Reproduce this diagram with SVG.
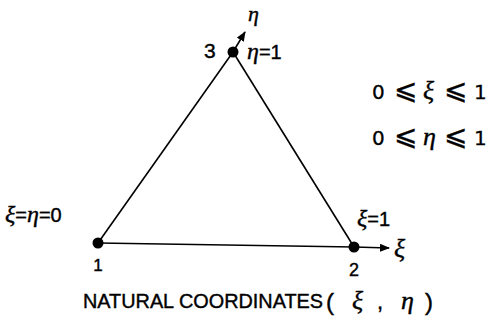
<svg xmlns="http://www.w3.org/2000/svg" width="486" height="331" viewBox="0 0 486 331">
<style>
.t{font-family:"Liberation Sans",Arial,sans-serif;fill:#000;stroke:#000;stroke-width:0.4}
.g{font-family:"Liberation Serif","DejaVu Serif",serif;font-style:italic;fill:#000;stroke:#000;stroke-width:0.4}
.s{font-family:"DejaVu Sans",sans-serif;fill:#000;stroke:#000;stroke-width:0.3}
.e{stroke:#000;stroke-width:1.6;fill:none}
.d{fill:#000}
</style>
<defs>
<marker id="ah" markerWidth="10" markerHeight="8" refX="9" refY="4" orient="auto" markerUnits="userSpaceOnUse">
<path d="M0,0 L10,4 L0,8 Z" fill="#000"/>
</marker>
</defs>
<rect width="486" height="331" fill="#fff"/>
<g id="connectors">
<line class="e" x1="98" y1="243" x2="354" y2="247"/>
<line class="e" x1="98" y1="243" x2="233" y2="52"/>
<line class="e" x1="233" y1="52" x2="354" y2="247"/>
<line class="e" x1="233" y1="52" x2="245" y2="32" marker-end="url(#ah)"/>
<line class="e" x1="354" y1="247" x2="389" y2="248" marker-end="url(#ah)"/>
</g>
<g id="node1">
<circle class="d" cx="98" cy="243" r="5.5"/>
<text class="t" x="98" y="271" font-size="17" text-anchor="middle">1</text>
<text class="g" x="5" y="222" font-size="24">ξ<tspan class="t" font-style="normal" font-size="20">=</tspan>η<tspan class="t" font-style="normal" font-size="20">=0</tspan></text>
</g>
<g id="node2">
<circle class="d" cx="354" cy="247" r="5.5"/>
<text class="t" x="354" y="276" font-size="18" text-anchor="middle">2</text>
<text class="g" x="357" y="226" font-size="24">ξ<tspan class="t" font-style="normal" font-size="20">=1</tspan></text>
<text class="g" x="394" y="257" font-size="26">ξ</text>
</g>
<g id="node3">
<circle class="d" cx="233" cy="52" r="5.5"/>
<text class="t" x="204" y="58" font-size="21">3</text>
<text class="g" x="247" y="59" font-size="24">η<tspan class="t" font-style="normal" font-size="20">=1</tspan></text>
<text class="g" x="248" y="21" font-size="22">η</text>
</g>
<g id="ranges">
<text class="s" font-size="20" y="99"><tspan x="372">0</tspan><tspan x="394" font-size="28">⩽</tspan><tspan class="g" x="423" font-size="26">ξ</tspan><tspan x="444" font-size="28">⩽</tspan><tspan x="474">1</tspan></text>
<text class="s" font-size="20" y="145"><tspan x="372">0</tspan><tspan x="394" font-size="28">⩽</tspan><tspan class="g" x="423" font-size="26">η</tspan><tspan x="444" font-size="28">⩽</tspan><tspan x="474">1</tspan></text>
</g>
<g id="caption">
<text class="t" x="83" y="308" font-size="20" textLength="240" lengthAdjust="spacingAndGlyphs">NATURAL COORDINATES</text>
<text class="t" x="326" y="310" font-size="24">(</text>
<text class="g" x="352" y="309" font-size="26">ξ</text>
<text class="t" x="377" y="309" font-size="22">,</text>
<text class="g" x="401" y="309" font-size="26">η</text>
<text class="t" x="425" y="310" font-size="24">)</text>
</g>
</svg>
